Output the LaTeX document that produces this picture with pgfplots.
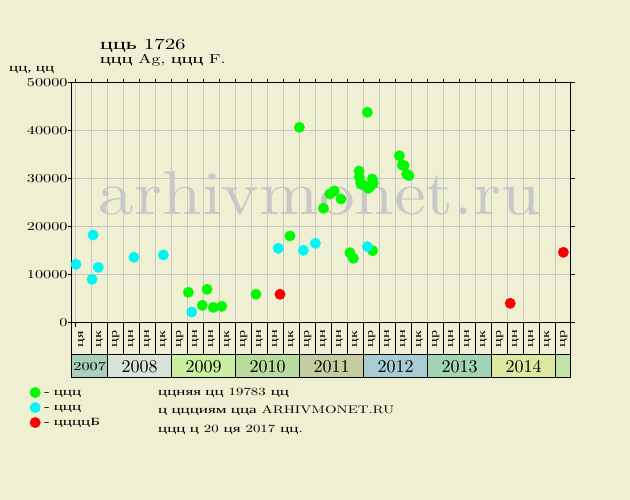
\documentclass[border=0pt]{standalone}
\usepackage{fontspec}
\setmainfont{lmroman10-regular.otf}[FakeStretch=1.35]
\newfontfamily\plainlm{lmroman10-regular.otf}
\newfontfamily\lmwm{lmroman10-regular.otf}[FakeStretch=1.15]
\newfontfamily\cy{Liberation Serif}[FakeStretch=1.55]
\usepackage{pgfplots}
\pgfplotsset{compat=1.18}
\newcommand\fs[1]{\fontsize{#1}{#1}\selectfont}
\definecolor{bgc}{RGB}{239,239,210}
\definecolor{gridc}{RGB}{200,200,200}
\definecolor{mgreen}{RGB}{0,250,0}
\definecolor{mcyan}{RGB}{0,245,245}
\definecolor{mred}{RGB}{250,0,0}
\definecolor{wm}{RGB}{200,200,200}
\definecolor{y07}{RGB}{168,208,184}
\definecolor{y08}{RGB}{216,228,216}
\definecolor{y09}{RGB}{200,240,160}
\definecolor{y10}{RGB}{184,220,156}
\definecolor{y11}{RGB}{196,204,160}
\definecolor{y12}{RGB}{168,204,212}
\definecolor{y13}{RGB}{160,212,180}
\definecolor{y14}{RGB}{220,232,160}
\definecolor{y15}{RGB}{192,228,168}
\begin{document}
\begin{tikzpicture}
\fill[bgc] (0pt,0pt) rectangle (630pt,500pt);
\node[anchor=base west,inner sep=0pt] at (100pt,450.5pt) {\fs{15.5}{\cy цць} 1726};
\node[anchor=base west,inner sep=0pt] at (100pt,436pt) {\fs{13}{\cy ццц} Ag, {\cy ццц} F.};
\node[anchor=base west,inner sep=0pt] at (9pt,428pt) {\fs{11}\cy цц, цц};
\node[anchor=base west,inner sep=0pt] at (158pt,104pt) {\fs{11}{\cy ццняя цц} 19783 {\cy цц}};
\node[anchor=base west,inner sep=0pt] at (158pt,86pt) {\fs{11}{\cy ц ццциям цца} ARHIVMONET.RU};
\node[anchor=base west,inner sep=0pt] at (158pt,67.3pt) {\fs{11}{\cy ццц ц} 20 {\cy ця} 2017 {\cy цц}.};
\begin{axis}[
  at={(71.7pt,177pt)}, anchor=south west,
  scale only axis, width=499pt, height=240pt,
  xmin=-0.25, xmax=30.94, ymin=0, ymax=50000,
  clip=false,
  axis line style={black, line width=1pt},
  ytick={0,10000,...,50000},
  scaled y ticks=false,
  yticklabel style={font=\fs{12}, /pgf/number format/fixed, /pgf/number format/1000 sep={}, /pgf/number format/assume math mode=true, inner sep=0pt},
  ymajorgrids,
  major grid style={gridc, line width=1pt},
  xtick={0.375,1.5,2.5,...,30.5},
  xticklabels={ця,цк,цр,цн,цн,цк,цр,цн,цн,цк,цр,цн,цн,цк,цр,цн,цн,цк,цр,цн,цн,цк,цр,цн,цн,цк,цр,цн,цн,цк,цр},
  xticklabel style={font=\cy\fs{10.5}, anchor=center, yshift=-12pt, rotate=90},
  major x tick style={draw=none},
  minor xtick={0,1,...,30},
  xminorgrids,
  minor grid style={gridc, line width=1pt},
  tick align=outside, major tick length=4pt, minor tick length=4pt,
  tick style={black, line width=1pt},
  legend style={at={(-0.084,-0.262)}, anchor=north west, draw=none, fill=none, inner sep=0pt,
    font=\cy\fs{11}, row sep=2pt, nodes={inner sep=1pt, inner xsep=3.5pt, text height=8pt, text depth=3pt}},
  legend cell align=left,
]
\node[text=wm, font=\lmwm\fs{62}, inner sep=0pt] at (rel axis cs:0.4976,0.54) {arhivmonet.ru};
\addplot[only marks, mark=*, mark size=5.2pt, color=mgreen, mark options={draw=none, fill=mgreen}] coordinates {
(7.04,6390) (7.91,3680) (8.21,7020) (8.60,3260) (9.13,3470) (11.27,5980)
(13.39,18125) (13.98,40770) (15.48,23900) (15.89,26870) (16.16,27500) (16.58,25830)
(17.14,14650) (17.35,13480) (17.71,31670) (17.73,30350) (17.81,29100) (17.98,28750)
(18.23,43900) (18.29,28060) (18.44,28540) (18.54,30000) (18.60,29100) (18.56,15060)
(20.23,34850) (20.41,32900) (20.52,32800) (20.69,31000) (20.83,30700)
};
\addlegendentry{- ццц}
\addplot[only marks, mark=*, mark size=5.2pt, color=mcyan, mark options={draw=none, fill=mcyan}] coordinates {
(0.02,12230) (1.02,9100) (1.08,18330) (1.41,11600) (3.64,13690) (5.48,14170)
(7.25,2290) (12.66,15560) (14.23,15150) (14.98,16600) (18.23,15900)
};
\addlegendentry{- ццц}
\addplot[only marks, mark=*, mark size=5.2pt, color=mred, mark options={draw=none, fill=mred}] coordinates {
(12.77,5980) (27.16,4100) (30.48,14730)
};
\addlegendentry{- ццццБ}
% year row
\fill[y07] ([yshift=-31.5pt]rel axis cs:0,0) rectangle ([yshift=-55pt]axis cs:2,0);
\fill[y08] ([yshift=-31.5pt]axis cs:2,0) rectangle ([yshift=-55pt]axis cs:6,0);
\fill[y09] ([yshift=-31.5pt]axis cs:6,0) rectangle ([yshift=-55pt]axis cs:10,0);
\fill[y10] ([yshift=-31.5pt]axis cs:10,0) rectangle ([yshift=-55pt]axis cs:14,0);
\fill[y11] ([yshift=-31.5pt]axis cs:14,0) rectangle ([yshift=-55pt]axis cs:18,0);
\fill[y12] ([yshift=-31.5pt]axis cs:18,0) rectangle ([yshift=-55pt]axis cs:22,0);
\fill[y13] ([yshift=-31.5pt]axis cs:22,0) rectangle ([yshift=-55pt]axis cs:26,0);
\fill[y14] ([yshift=-31.5pt]axis cs:26,0) rectangle ([yshift=-55pt]axis cs:30,0);
\fill[y15] ([yshift=-31.5pt]axis cs:30,0) rectangle ([yshift=-55pt]rel axis cs:1,0);
\pgfplotsinvokeforeach{1,...,30}{\draw[black, line width=1pt] (axis cs:#1,0) -- ([yshift=-31.5pt]axis cs:#1,0);}
\pgfplotsinvokeforeach{2,6,10,14,18,22,26,30}{\draw[black, line width=1pt] ([yshift=-31.5pt]axis cs:#1,0) -- ([yshift=-55pt]axis cs:#1,0);}
\draw[black, line width=1pt] (rel axis cs:0,0) -- ([yshift=-55pt]rel axis cs:0,0) -- ([yshift=-55pt]rel axis cs:1,0) -- (rel axis cs:1,0);
\draw[black, line width=1pt] ([yshift=-31.5pt]rel axis cs:0,0) -- ([yshift=-31.5pt]rel axis cs:1,0);
\node[font=\fs{12}] at ([yshift=-43.5pt]axis cs:0.875,0) {2007};
\node[font=\plainlm\fs{18}] at ([yshift=-43.5pt]axis cs:4,0) {2008};
\node[font=\plainlm\fs{18}] at ([yshift=-43.5pt]axis cs:8,0) {2009};
\node[font=\plainlm\fs{18}] at ([yshift=-43.5pt]axis cs:12,0) {2010};
\node[font=\plainlm\fs{18}] at ([yshift=-43.5pt]axis cs:16,0) {2011};
\node[font=\plainlm\fs{18}] at ([yshift=-43.5pt]axis cs:20,0) {2012};
\node[font=\plainlm\fs{18}] at ([yshift=-43.5pt]axis cs:24,0) {2013};
\node[font=\plainlm\fs{18}] at ([yshift=-43.5pt]axis cs:28,0) {2014};
\end{axis}
\end{tikzpicture}
\end{document}
